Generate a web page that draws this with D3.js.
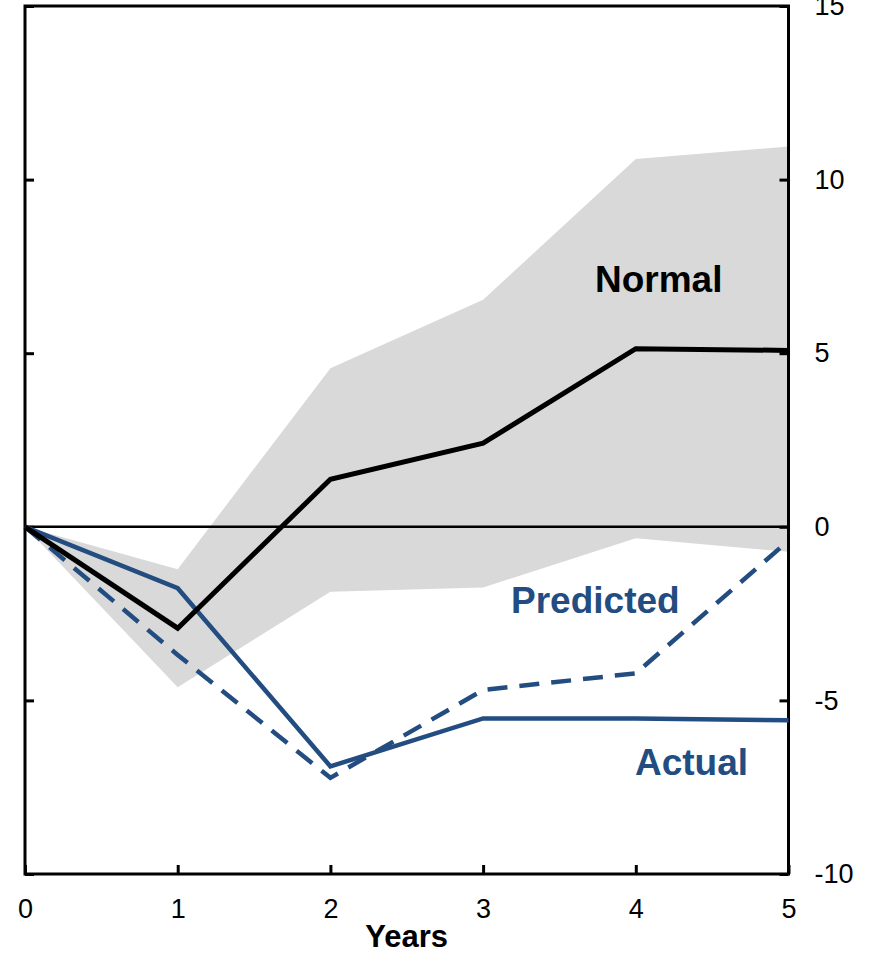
<!DOCTYPE html>
<html>
<head>
<meta charset="utf-8">
<script src="https://cdn.jsdelivr.net/npm/d3@7"></script>
<style>
  body { margin: 0; background: #fff; }
  text { font-family: "Liberation Sans", Arial, sans-serif; }
  .axis .domain { display: none; }
  .axis line { stroke: #000; stroke-width: 3; }
</style>
</head>
<body>
<div id="chart"></div>
<script>
var years = [0, 1, 2, 3, 4, 5];
var normal = [0, -2.92, 1.37, 2.41, 5.13, 5.08];
var bandUpper = [0, -1.22, 4.57, 6.54, 10.59, 10.95];
var bandLower = [0, -4.62, -1.87, -1.75, -0.33, -0.72];
var actual = [0, -1.77, -6.9, -5.52, -5.52, -5.57];
var predicted = [0, -3.69, -7.23, -4.7, -4.22, -0.4];
var yTicks = [-10, -5, 0, 5, 10, 15];
var labels = [
  { text: "Normal", x: 4.15, y: 6.77, color: "#000" },
  { text: "Predicted", x: 3.735, y: -2.47, color: "#234c80" },
  { text: "Actual", x: 4.365, y: -7.14, color: "#234c80" }
];

var width = 877, height = 962;
var blue = "#234c80";

var svg = d3.select("#chart").append("svg")
  .attr("width", width)
  .attr("height", height);

var x = d3.scaleLinear().domain([0, 5]).range([25, 788.5]);
var y = d3.scaleLinear().domain([-10, 15]).range([874, 6]);

// plain hyphen for negatives, like the original
var fmt = function(d) { return String(d); };

// shaded range
var area = d3.area()
  .x(function(d, i) { return x(years[i]); })
  .y0(function(d, i) { return y(bandLower[i]); })
  .y1(function(d, i) { return y(bandUpper[i]); });

svg.append("path")
  .datum(years)
  .attr("d", area)
  .attr("fill", "#d9d9d9");

// zero line
svg.append("line")
  .attr("x1", x(0)).attr("x2", x(5))
  .attr("y1", y(0)).attr("y2", y(0))
  .attr("stroke", "#000")
  .attr("stroke-width", 2.5);

// axes
svg.append("g")
  .attr("class", "axis")
  .attr("transform", "translate(" + x(0) + ",0)")
  .call(d3.axisLeft(y).tickValues(yTicks).tickSize(-9).tickSizeOuter(0).tickFormat(""));

var yAxis = svg.append("g")
  .attr("class", "axis")
  .attr("transform", "translate(" + x(5) + ",0)")
  .call(d3.axisRight(y).tickValues(yTicks).tickSize(-9).tickSizeOuter(0).tickPadding(26).tickFormat(fmt));
yAxis.selectAll("text")
  .attr("font-size", 27)
  .attr("font-family", "Liberation Sans, Arial, sans-serif")
  .attr("fill", "#000");

var xAxis = svg.append("g")
  .attr("class", "axis")
  .attr("transform", "translate(0," + y(-10) + ")")
  .call(d3.axisBottom(x).tickValues(years).tickSize(-9).tickSizeOuter(0).tickPadding(25).tickFormat(fmt));
xAxis.selectAll("text")
  .attr("font-size", 27)
  .attr("font-family", "Liberation Sans, Arial, sans-serif")
  .attr("fill", "#000");

// frame
svg.append("rect")
  .attr("x", x(0)).attr("y", y(15))
  .attr("width", x(5) - x(0))
  .attr("height", y(-10) - y(15))
  .attr("fill", "none")
  .attr("stroke", "#000")
  .attr("stroke-width", 3);

var line = d3.line()
  .x(function(d, i) { return x(years[i]); })
  .y(function(d) { return y(d); });

svg.append("path")
  .datum(predicted)
  .attr("d", line)
  .attr("fill", "none")
  .attr("stroke", blue)
  .attr("stroke-width", 4.5)
  .attr("stroke-dasharray", "20,12");

svg.append("path")
  .datum(actual)
  .attr("d", line)
  .attr("fill", "none")
  .attr("stroke", blue)
  .attr("stroke-width", 4.5);

svg.append("path")
  .datum(normal)
  .attr("d", line)
  .attr("fill", "none")
  .attr("stroke", "#000")
  .attr("stroke-width", 5);

svg.selectAll(".lbl")
  .data(labels)
  .enter().append("text")
  .attr("class", "lbl")
  .attr("x", function(d) { return x(d.x); })
  .attr("y", function(d) { return y(d.y); })
  .attr("text-anchor", "middle")
  .attr("font-size", 37)
  .attr("font-weight", "bold")
  .attr("fill", function(d) { return d.color; })
  .text(function(d) { return d.text; });

svg.append("text")
  .attr("x", (x(0) + x(5)) / 2)
  .attr("y", 947)
  .attr("text-anchor", "middle")
  .attr("font-size", 31)
  .attr("font-weight", "bold")
  .text("Years");
</script>
</body>
</html>
